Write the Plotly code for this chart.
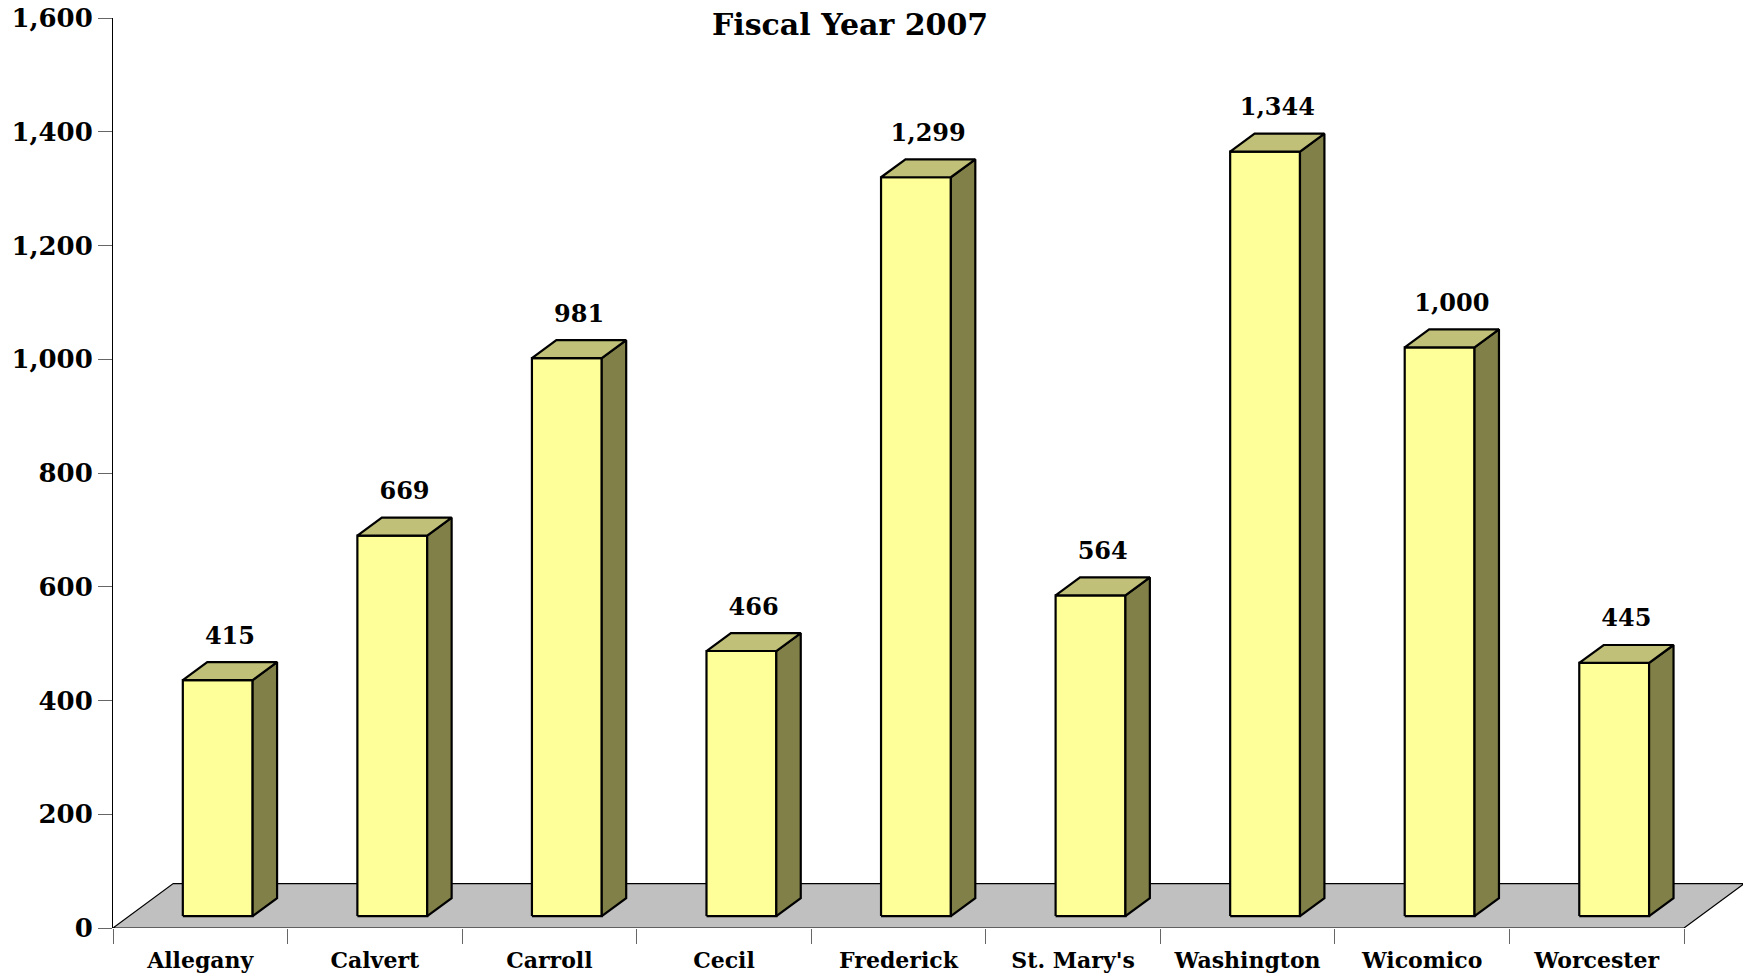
import plotly.graph_objects as go

# ---- data ----
counties = ["Allegany", "Calvert", "Carroll", "Cecil", "Frederick",
            "St. Mary's", "Washington", "Wicomico", "Worcester"]
values = [415, 669, 981, 466, 1299, 564, 1344, 1000, 445]
y_ticks = [0, 200, 400, 600, 800, 1000, 1200, 1400, 1600]
title_text = "Fiscal Year 2007"

# ---- 3D styling geometry (data units) ----
BAR_W = 0.40      # width of the front face
BAR_SHIFT = 0.10  # front face sits slightly back on the floor
BASE = 21.0       # front face base height above the floor front edge
DX = 0.14         # bar depth (x)
DY = 31.6         # bar depth (y)
FLOOR_DX = 0.345
FLOOR_DY = 78.0

FONT = "DejaVu Serif"

W, H = 1743, 979
ML, MT, MB, MR = 113, 18, 51, 0
PLOT_W = W - ML - MR
PLOT_H = H - MT - MB

n = len(counties)

# floor polygon
fx = [-0.5, n - 0.5, n - 0.5 + FLOOR_DX, -0.5 + FLOOR_DX, -0.5]
fy = [0, 0, FLOOR_DY, FLOOR_DY, 0]

front_x, front_y, side_x, side_y, top_x, top_y = [], [], [], [], [], []
for i, v in enumerate(values):
    c = i + BAR_SHIFT
    x0, x1 = c - BAR_W / 2, c + BAR_W / 2
    y0, y1 = BASE, BASE + v
    front_x += [x0, x1, x1, x0, x0, None]
    front_y += [y0, y0, y1, y1, y0, None]
    side_x += [x1, x1 + DX, x1 + DX, x1, x1, None]
    side_y += [y0, y0 + DY, y1 + DY, y1, y0, None]
    top_x += [x0, x0 + DX, x1 + DX, x1, x0, None]
    top_y += [y1, y1 + DY, y1 + DY, y1, y1, None]

fig = go.Figure()
fig.add_trace(go.Scatter(x=fx, y=fy, mode="lines", fill="toself",
                         fillcolor="#C0C0C0", line=dict(color="#000000", width=1.2),
                         hoverinfo="skip"))
fig.add_trace(go.Scatter(x=front_x, y=front_y, mode="lines", fill="toself",
                         fillcolor="#FFFF99", line=dict(color="#000000", width=2.2),
                         hoverinfo="skip"))
fig.add_trace(go.Scatter(x=side_x, y=side_y, mode="lines", fill="toself",
                         fillcolor="#808048", line=dict(color="#000000", width=2.2),
                         hoverinfo="skip"))
fig.add_trace(go.Scatter(x=top_x, y=top_y, mode="lines", fill="toself",
                         fillcolor="#C0C078", line=dict(color="#000000", width=2.2),
                         hoverinfo="skip"))

# value labels
fig.add_trace(go.Scatter(
    x=[i + BAR_SHIFT + DX / 2 for i in range(n)],
    y=[BASE + v + DY + 22 for v in values],
    mode="text", text=[f"{v:,}" for v in values], textposition="top center",
    textfont=dict(family=FONT, size=24, color="#000000", weight="bold"),
    cliponaxis=False, hoverinfo="skip"))

fig.update_layout(
    width=W, height=H,
    margin=dict(l=ML, r=MR, t=MT, b=MB, pad=0),
    plot_bgcolor="#FFFFFF", paper_bgcolor="#FFFFFF",
    showlegend=False,
    font=dict(family=FONT, color="#000000"),
    xaxis=dict(
        range=[-0.5, n - 0.5 + 0.338],
        tickmode="array", tickvals=list(range(n)), ticktext=counties,
        ticks="outside", ticklen=13, tickcolor="rgba(0,0,0,0)",
        tickfont=dict(family=FONT, size=22, color="#000000", weight="bold"),
        showline=False, showgrid=False, zeroline=False,
        minor=dict(tickmode="array", tickvals=[i - 0.5 for i in range(n + 1)],
                   ticks="outside", ticklen=15, tickcolor="#666666", tickwidth=1,
                   showgrid=False),
        fixedrange=True,
    ),
    yaxis=dict(
        range=[0, 1600],
        tickmode="array", tickvals=y_ticks, tickformat=",",
        ticks="outside", ticklen=14, tickcolor="#666666", tickwidth=1,
        tickfont=dict(family=FONT, size=26, color="#000000", weight="bold"),
        showline=True, linecolor="#000000", linewidth=1,
        showgrid=False, zeroline=False, fixedrange=True,
    ),
    annotations=[dict(
        text=title_text, xref="paper", yref="paper",
        x=(850 - 113) / PLOT_W, y=(928 - 25) / PLOT_H,
        xanchor="center", yanchor="middle", showarrow=False,
        font=dict(family=FONT, size=30, color="#000000", weight="bold"),
    )],
)

fig.write_html(
    "out.html",
    config={"displayModeBar": False},
    post_script="document.body.style.margin='0';document.body.style.overflow='hidden';",
)
